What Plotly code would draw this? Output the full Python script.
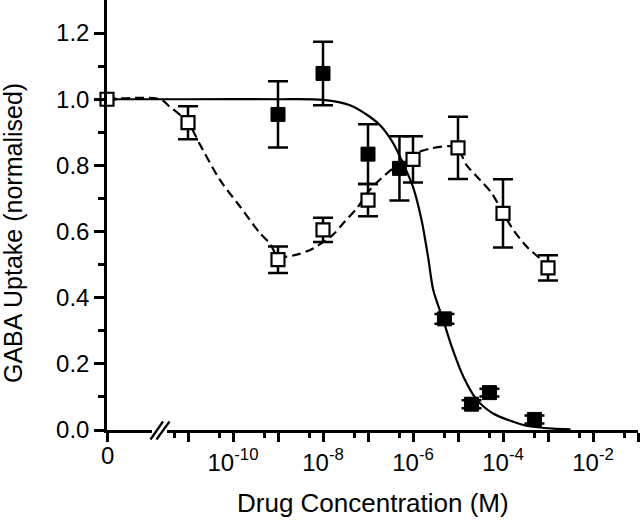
import plotly.graph_objects as go

# ---------------- data ----------------
# concentration 0 is drawn at the left end of the broken log axis
ZERO_LOG = -12.8

# filled squares (solid fit)
filled_conc = [1e-9, 1e-8, 1e-7, 5e-7, 5e-6, 2e-5, 5e-5, 5e-4]
filled_val = [0.954, 1.078, 0.834, 0.791, 0.336, 0.078, 0.113, 0.032]
filled_err = [0.100, 0.096, 0.090, 0.097, 0.015, 0.012, 0.012, 0.012]

# open squares (dashed fit); first point is concentration 0
open_conc = [0, 1e-11, 1e-9, 1e-8, 1e-7, 1e-6, 1e-5, 1e-4, 1e-3]
open_val = [1.0, 0.929, 0.515, 0.605, 0.695, 0.818, 0.853, 0.655, 0.490]
open_err = [0.0, 0.050, 0.040, 0.037, 0.049, 0.070, 0.094, 0.103, 0.038]

# fitted curves (log10 concentration, value)
solid_logx = [ZERO_LOG, -11.0, -9.0, -8.0, -7.4, -6.96, -6.70, -6.44, -6.22, -6.0,
              -5.81, -5.66, -5.55, -5.33, -5.14, -4.88, -4.58, -4.22, -3.77, -3.44,
              -2.89, -2.5]
solid_y = [1.0, 1.0, 1.0, 0.998, 0.982, 0.947, 0.917, 0.867, 0.806, 0.735,
           0.635, 0.519, 0.423, 0.333, 0.252, 0.161, 0.091, 0.050, 0.025, 0.012,
           0.004, 0.002]

dash_logx = [ZERO_LOG, -11.62, -11.4, -11.0, -10.73, -10.29, -9.84, -9.4, -9.18, -9.0,
             -8.58, -8.22, -7.78, -7.55, -7.25, -6.96, -6.58, -6.04, -5.58, -5.04,
             -4.81, -4.51, -4.25, -4.0, -3.77, -3.47, -3.0]
dash_y = [1.0, 1.0, 0.977, 0.93, 0.862, 0.756, 0.675, 0.595, 0.564, 0.525,
          0.530, 0.549, 0.590, 0.625, 0.670, 0.726, 0.776, 0.831, 0.852, 0.855,
          0.801, 0.756, 0.716, 0.656, 0.605, 0.554, 0.499]

x_zero_label = "0"
x_tick_text = ["10<sup>-10</sup>", "10<sup>-8</sup>", "10<sup>-6</sup>",
               "10<sup>-4</sup>", "10<sup>-2</sup>"]
x_title = "Drug Concentration (M)"
y_title = "GABA Uptake (normalised)"

# ---------------- build ----------------
zero_pos = 10 ** ZERO_LOG


def place(c):
    return zero_pos if c == 0 else c


FONT = "Liberation Sans, Arial, sans-serif"

fig = go.Figure()
fig.add_trace(go.Scatter(
    x=[10 ** v for v in solid_logx], y=solid_y, mode="lines",
    line=dict(color="black", width=2.2, shape="spline", smoothing=0.8),
    cliponaxis=False, showlegend=False, hoverinfo="skip"))
fig.add_trace(go.Scatter(
    x=[10 ** v for v in dash_logx], y=dash_y, mode="lines",
    line=dict(color="black", width=2.2, dash="9px,5px", shape="spline", smoothing=0.8),
    cliponaxis=False, showlegend=False, hoverinfo="skip"))
fig.add_trace(go.Scatter(
    x=[place(c) for c in filled_conc], y=filled_val, mode="markers",
    marker=dict(symbol="square", size=14, color="black", line=dict(color="black", width=1)),
    error_y=dict(type="data", array=filled_err, visible=True, color="black",
                 thickness=2.5, width=10),
    cliponaxis=False, showlegend=False))
fig.add_trace(go.Scatter(
    x=[place(c) for c in open_conc], y=open_val, mode="markers",
    marker=dict(symbol="square", size=13, color="white", line=dict(color="black", width=2.2)),
    error_y=dict(type="data", array=open_err, visible=True, color="black",
                 thickness=2.5, width=10),
    cliponaxis=False, showlegend=False))

major_vals = [zero_pos] + [10.0 ** e for e in range(-11, 0)]
major_text = [""]
for e in range(-11, 0):
    lbl = "10<sup>%d</sup>" % e
    major_text.append(lbl if lbl in x_tick_text else "")
minor_vals = [5 * 10.0 ** e for e in range(-12, -1)]

fig.update_xaxes(
    type="log", range=[ZERO_LOG, -1], showgrid=False, zeroline=False,
    showline=True, linecolor="black", linewidth=2.5, automargin=False,
    ticks="outside", ticklen=9, tickwidth=2.5, tickcolor="black",
    tickmode="array", tickvals=major_vals, ticktext=major_text,
    tickfont=dict(family=FONT, size=24, color="black"),
    minor=dict(tickmode="array", tickvals=minor_vals, ticks="outside",
               ticklen=5, tickwidth=2.5, tickcolor="black", showgrid=False),
)
fig.update_yaxes(
    range=[0, 1.3], showgrid=False, zeroline=False,
    showline=True, linecolor="black", linewidth=2.5, automargin=False,
    ticks="outside", ticklen=10, tickwidth=2.5, tickcolor="black",
    tickmode="array", tickvals=[0, 0.2, 0.4, 0.6, 0.8, 1.0, 1.2], tickformat=".1f",
    tickfont=dict(family=FONT, size=24, color="black"),
    minor=dict(tickmode="array", tickvals=[0.1, 0.3, 0.5, 0.7, 0.9, 1.1],
               ticks="outside", ticklen=6, tickwidth=2.5, tickcolor="black",
               showgrid=False),
)

L, R, T, B = 107, 2, 0, 91
W, H = 640, 521
pw, ph = W - L - R, H - T - B


def px(x):
    return (x - L) / pw


def py(y):
    return (H - B - y) / ph


# axis break "//"
fig.add_shape(type="rect", xref="paper", yref="paper",
              x0=px(152), x1=px(167), y0=py(427), y1=py(433),
              fillcolor="white", line=dict(width=0), layer="above")
for x_a, x_b in [(150.5, 163), (156.5, 169.5)]:
    fig.add_shape(type="line", xref="paper", yref="paper",
                  x0=px(x_a), y0=py(439.5), x1=px(x_b), y1=py(421.5),
                  line=dict(color="black", width=2.2), layer="above")

# label for concentration 0 (sits slightly higher than the power labels)
fig.add_annotation(text=x_zero_label, x=ZERO_LOG, xref="x", yref="paper",
                   y=py(455), showarrow=False,
                   font=dict(family=FONT, size=24, color="black"),
                   xanchor="center", yanchor="middle")
fig.add_annotation(text=x_title, xref="paper", yref="paper",
                   x=px(373), y=py(503), showarrow=False,
                   font=dict(family=FONT, size=26, color="black"),
                   xanchor="center", yanchor="middle")
fig.add_annotation(text=y_title, xref="paper", yref="paper",
                   x=px(13), y=py(233), showarrow=False, textangle=-90,
                   font=dict(family=FONT, size=25, color="black"),
                   xanchor="center", yanchor="middle")

fig.update_layout(
    width=W, height=H, margin=dict(l=L, r=R, t=T, b=B),
    plot_bgcolor="white", paper_bgcolor="white", showlegend=False,
)

fig.write_html("out.html", config={"displayModeBar": False},
               post_script="document.body.style.margin='0';document.body.style.padding='0';")
